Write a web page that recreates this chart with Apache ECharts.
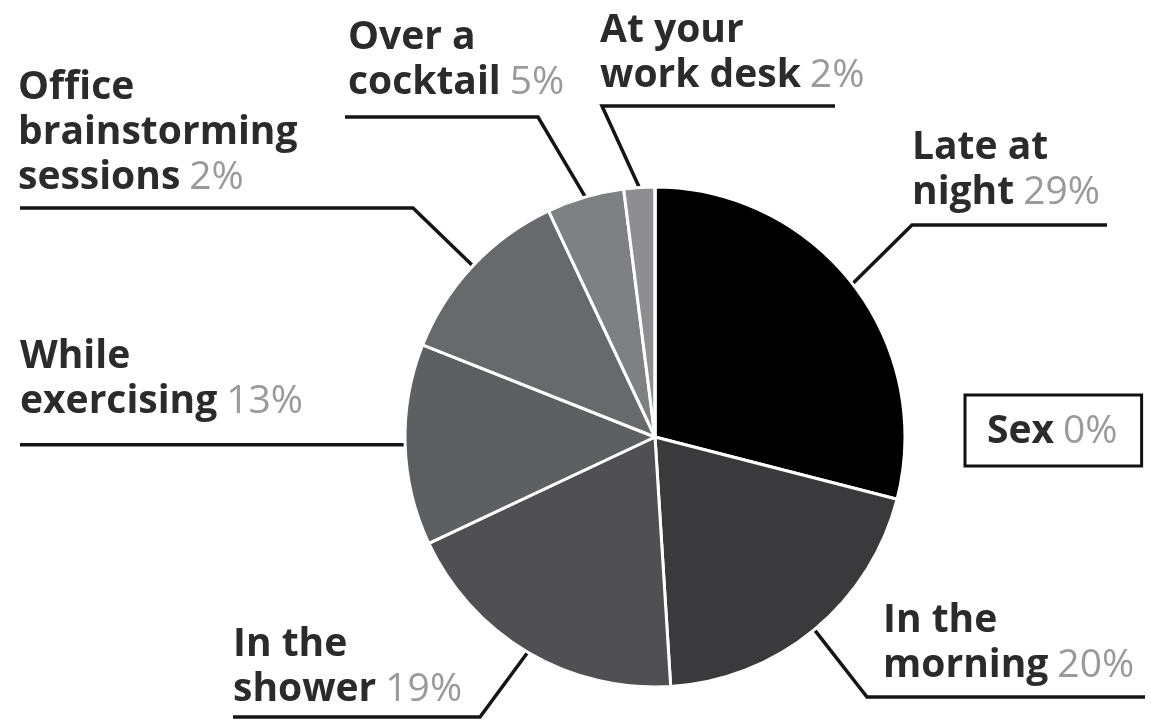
<!DOCTYPE html>
<html>
<head>
<meta charset="utf-8">
<title>When do you get your best ideas</title>
<script src="https://cdn.jsdelivr.net/npm/echarts@6/dist/echarts.min.js"></script>
<style>
  html, body { margin: 0; padding: 0; background: #fff; }
  #chart { width: 1151px; height: 723px; }
</style>
</head>
<body>
<div id="chart"></div>
<script>
// categories, clockwise from 12 o'clock
var names = [
  'Late at\nnight',
  'In the\nmorning',
  'In the\nshower',
  'While\nexercising',
  'Office\nbrainstorming\nsessions',
  'Over a\ncocktail',
  'At your\nwork desk',
  'Sex'
];
// slice sizes
var values = [29, 20, 19, 13, 12, 5, 2, 0];
// percentages as printed next to each label
var pctText = ['29%', '20%', '19%', '13%', '2%', '5%', '2%', '0%'];
var sliceColors = ['#000000', '#3a3a3d', '#505054', '#5e5f63', '#67696d', '#7e8084', '#8e8e92', '#ffffff'];

// label placement: left x, top y, underline y, elbow x, far end x
var labelBoxes = [
  {x: 912, top: 125, lineY: 225, elbowX: 912, endX: 1107},
  {x: 883, top: 598, lineY: 697, elbowX: 867, endX: 1145},
  {x: 233, top: 622, lineY: 717, elbowX: 480, endX: 233},
  {x: 20,  top: 334, lineY: null, elbowX: null, endX: 20},
  {x: 18,  top: 65,  lineY: 208, elbowX: 413, endX: 20},
  {x: 348, top: 15,  lineY: 117, elbowX: 538, endX: 345},
  {x: 600, top: 8,   lineY: 106, elbowX: 602, endX: 835},
  {x: 965, top: 395, lineY: null, elbowX: null, endX: null, boxed: true}
];

var CX = 655, CY = 437, R = 250;

var chart = echarts.init(document.getElementById('chart'));

var pieData = [];
for (var i = 0; i < names.length; i++) {
  var item = {
    name: names[i],
    value: values[i],
    itemStyle: {color: sliceColors[i]}
  };
  if (labelBoxes[i].boxed) {
    item.labelLine = {show: false};
    item.label = {
      borderColor: '#111',
      borderWidth: 3,
      padding: [14, 24, 12, 22]
    };
  }
  pieData.push(item);
}

// fallback: edge point at the mid angle of a slice
function edgePoint(idx) {
  var total = 0, before = 0;
  for (var k = 0; k < values.length; k++) {
    total += values[k];
    if (k < idx) before += values[k];
  }
  var a = (before + values[idx] / 2) / total * Math.PI * 2;
  return [CX + R * Math.sin(a), CY - R * Math.cos(a)];
}

var option = {
  backgroundColor: '#fff',
  animation: false,
  series: [
    {
      type: 'pie',
      center: [CX, CY],
      radius: R,
      startAngle: 90,
      clockwise: true,
      avoidLabelOverlap: false,
      itemStyle: {
        borderColor: '#fff',
        borderWidth: 3
      },
      label: {
        show: true,
        position: 'outside',
        formatter: function (p) {
          return '{n|' + p.name.split('\n').join('}\n{n|') + '}{p|' + pctText[p.dataIndex] + '}';
        },
        rich: {
          n: {
            fontFamily: 'Open Sans',
            fontWeight: 'bold',
            fontSize: 39,
            lineHeight: 45,
            color: '#2b2b2b'
          },
          p: {
            fontFamily: 'Open Sans',
            fontWeight: 'normal',
            fontSize: 39,
            lineHeight: 45,
            color: '#9a9a9a',
            padding: [0, 0, 0, 9]
          }
        }
      },
      labelLine: {
        show: true,
        lineStyle: {
          color: '#151515',
          width: 3.5
        }
      },
      labelLayout: function (params) {
        var b = labelBoxes[params.dataIndex];
        var out = {
          x: b.x,
          y: b.top,
          align: 'left',
          verticalAlign: 'top'
        };
        if (b.boxed) {
          return out;
        }
        var start = params.labelLinePoints ? params.labelLinePoints[0] : edgePoint(params.dataIndex);
        if (b.lineY === null) {
          out.labelLinePoints = [start, start, [b.endX, start[1]]];
        } else {
          out.labelLinePoints = [start, [b.elbowX, b.lineY], [b.endX, b.lineY]];
        }
        return out;
      },
      data: pieData
    }
  ]
};

chart.setOption(option);
</script>
</body>
</html>
